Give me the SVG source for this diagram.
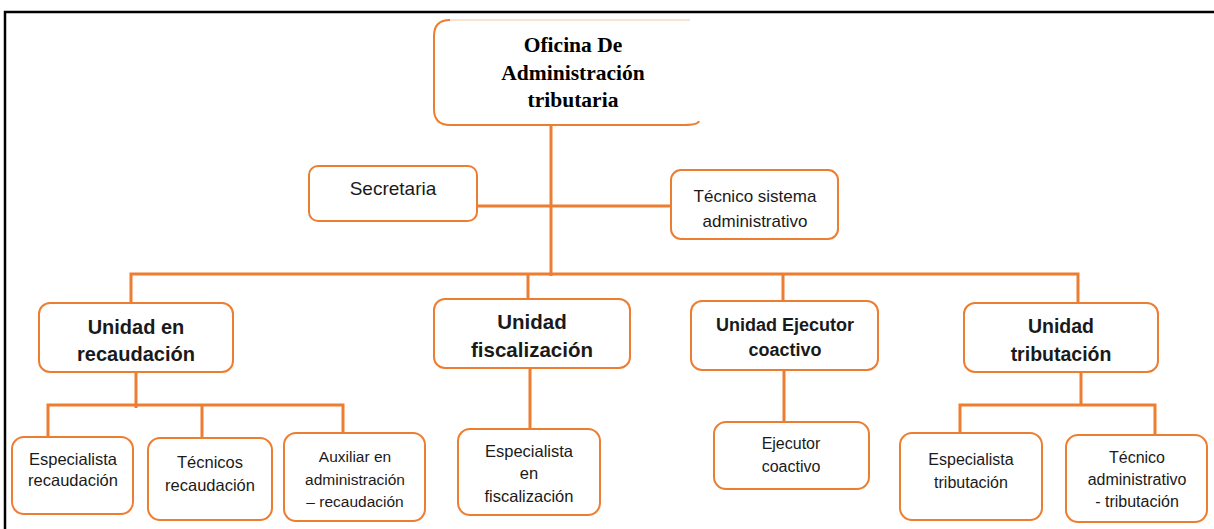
<svg xmlns="http://www.w3.org/2000/svg" width="1214" height="529" viewBox="0 0 1214 529">
<style>
.box{fill:#fff;stroke:#ED7D31;stroke-width:2}
.ln{stroke:#ED7D31;stroke-width:3;fill:none}
.t{font-family:"Liberation Sans",Arial,sans-serif;fill:#1a1a1a;text-anchor:middle}
.n{font-size:16px}
.m{font-size:17px}
.b{font-size:19.5px;font-weight:bold}
.s{font-family:"Liberation Serif","Times New Roman",serif;font-weight:bold;font-size:21.5px;fill:#000;text-anchor:middle}
</style>
<rect width="1214" height="529" fill="#fff"/>
<path d="M5 529 V12 H1214" stroke="#000" stroke-width="2.5" fill="none"/>
<g id="connectors">
<path class="ln" d="M551 126 V276"/>
<path class="ln" d="M477 206 H671"/>
<path class="ln" d="M131 303 V274 H1078 V303"/>
<path class="ln" d="M528 274 V299"/>
<path class="ln" d="M783 274 V301"/>
<path class="ln" d="M136 372 V408"/>
<path class="ln" d="M48 437 V405 H343 V432"/>
<path class="ln" d="M202 405 V438"/>
<path class="ln" d="M530 368 V429"/>
<path class="ln" d="M784 370 V422"/>
<path class="ln" d="M1081 372 V405"/>
<path class="ln" d="M960 433 V405 H1155 V436"/>
</g>
<g id="n-oficina">
<rect x="434" y="20" width="266" height="105" rx="16" fill="#fff"/>
<path d="M450 20 Q434 20 434 36 V109 Q434 125 450 125 H684 Q698 125 699 121" fill="none" stroke="#ED7D31" stroke-width="2"/>
<path d="M450 20 H690" stroke="#fbe3d3" stroke-width="2"/>
<text class="s" x="573" y="52">Oficina De</text>
<text class="s" x="573" y="80">Administración</text>
<text class="s" x="573" y="107">tributaria</text>
</g>
<g id="n-secretaria">
<rect class="box" x="309" y="166" width="168" height="55" rx="9"/>
<text class="t" style="font-size:19px" x="393" y="195">Secretaria</text>
</g>
<g id="n-tecnico-sistema">
<rect class="box" x="671" y="170" width="167" height="69" rx="10"/>
<text class="t m" x="755" y="202">Técnico sistema</text>
<text class="t m" x="755" y="227">administrativo</text>
</g>
<g id="n-recaudacion">
<rect class="box" x="39" y="303" width="194" height="69" rx="11"/>
<text class="t b" style="font-size:20px" x="136" y="334">Unidad en</text>
<text class="t b" style="font-size:20px" x="136" y="361">recaudación</text>
</g>
<g id="n-fiscalizacion">
<rect class="box" x="434" y="299" width="196" height="69" rx="11"/>
<text class="t b" style="font-size:20.5px" x="532" y="329">Unidad</text>
<text class="t b" style="font-size:20.5px" x="532" y="357">fiscalización</text>
</g>
<g id="n-ejecutor">
<rect class="box" x="691" y="301" width="187" height="69" rx="11"/>
<text class="t b" style="font-size:18px" x="785" y="331">Unidad Ejecutor</text>
<text class="t b" style="font-size:18px" x="785" y="356">coactivo</text>
</g>
<g id="n-tributacion">
<rect class="box" x="964" y="303" width="194" height="69" rx="11"/>
<text class="t b" x="1061" y="333">Unidad</text>
<text class="t b" x="1061" y="361">tributación</text>
</g>
<g id="n-esp-recaudacion">
<rect class="box" x="12" y="437" width="121" height="77" rx="12"/>
<text class="t" style="font-size:16.5px" x="73" y="465">Especialista</text>
<text class="t" style="font-size:16.5px" x="73" y="486">recaudación</text>
</g>
<g id="n-tec-recaudacion">
<rect class="box" x="148" y="438" width="124" height="82" rx="12"/>
<text class="t" style="font-size:16.5px" x="210" y="468">Técnicos</text>
<text class="t" style="font-size:16.5px" x="210" y="491">recaudación</text>
</g>
<g id="n-auxiliar">
<rect class="box" x="284" y="433" width="141" height="88" rx="12"/>
<text class="t" style="font-size:15.5px" x="355" y="462">Auxiliar en</text>
<text class="t" style="font-size:15.5px" x="355" y="485">administración</text>
<text class="t" style="font-size:15.5px" x="355" y="507">– recaudación</text>
</g>
<g id="n-esp-fiscalizacion">
<rect class="box" x="458" y="429" width="142" height="86" rx="12"/>
<text class="t" style="font-size:16.5px" x="529" y="457">Especialista</text>
<text class="t" style="font-size:16.5px" x="529" y="479">en</text>
<text class="t" style="font-size:16.5px" x="529" y="502">fiscalización</text>
</g>
<g id="n-ejecutor-coactivo">
<rect class="box" x="714" y="422" width="155" height="67" rx="12"/>
<text class="t n" x="791" y="449">Ejecutor</text>
<text class="t n" x="791" y="472">coactivo</text>
</g>
<g id="n-esp-tributacion">
<rect class="box" x="900" y="433" width="142" height="87" rx="12"/>
<text class="t n" x="971" y="465">Especialista</text>
<text class="t n" x="971" y="488">tributación</text>
</g>
<g id="n-tec-tributacion">
<rect class="box" x="1066" y="435" width="141" height="87" rx="12"/>
<text class="t n" x="1137" y="463">Técnico</text>
<text class="t n" x="1137" y="485">administrativo</text>
<text class="t n" x="1137" y="507">-  tributación</text>
</g>
</svg>
